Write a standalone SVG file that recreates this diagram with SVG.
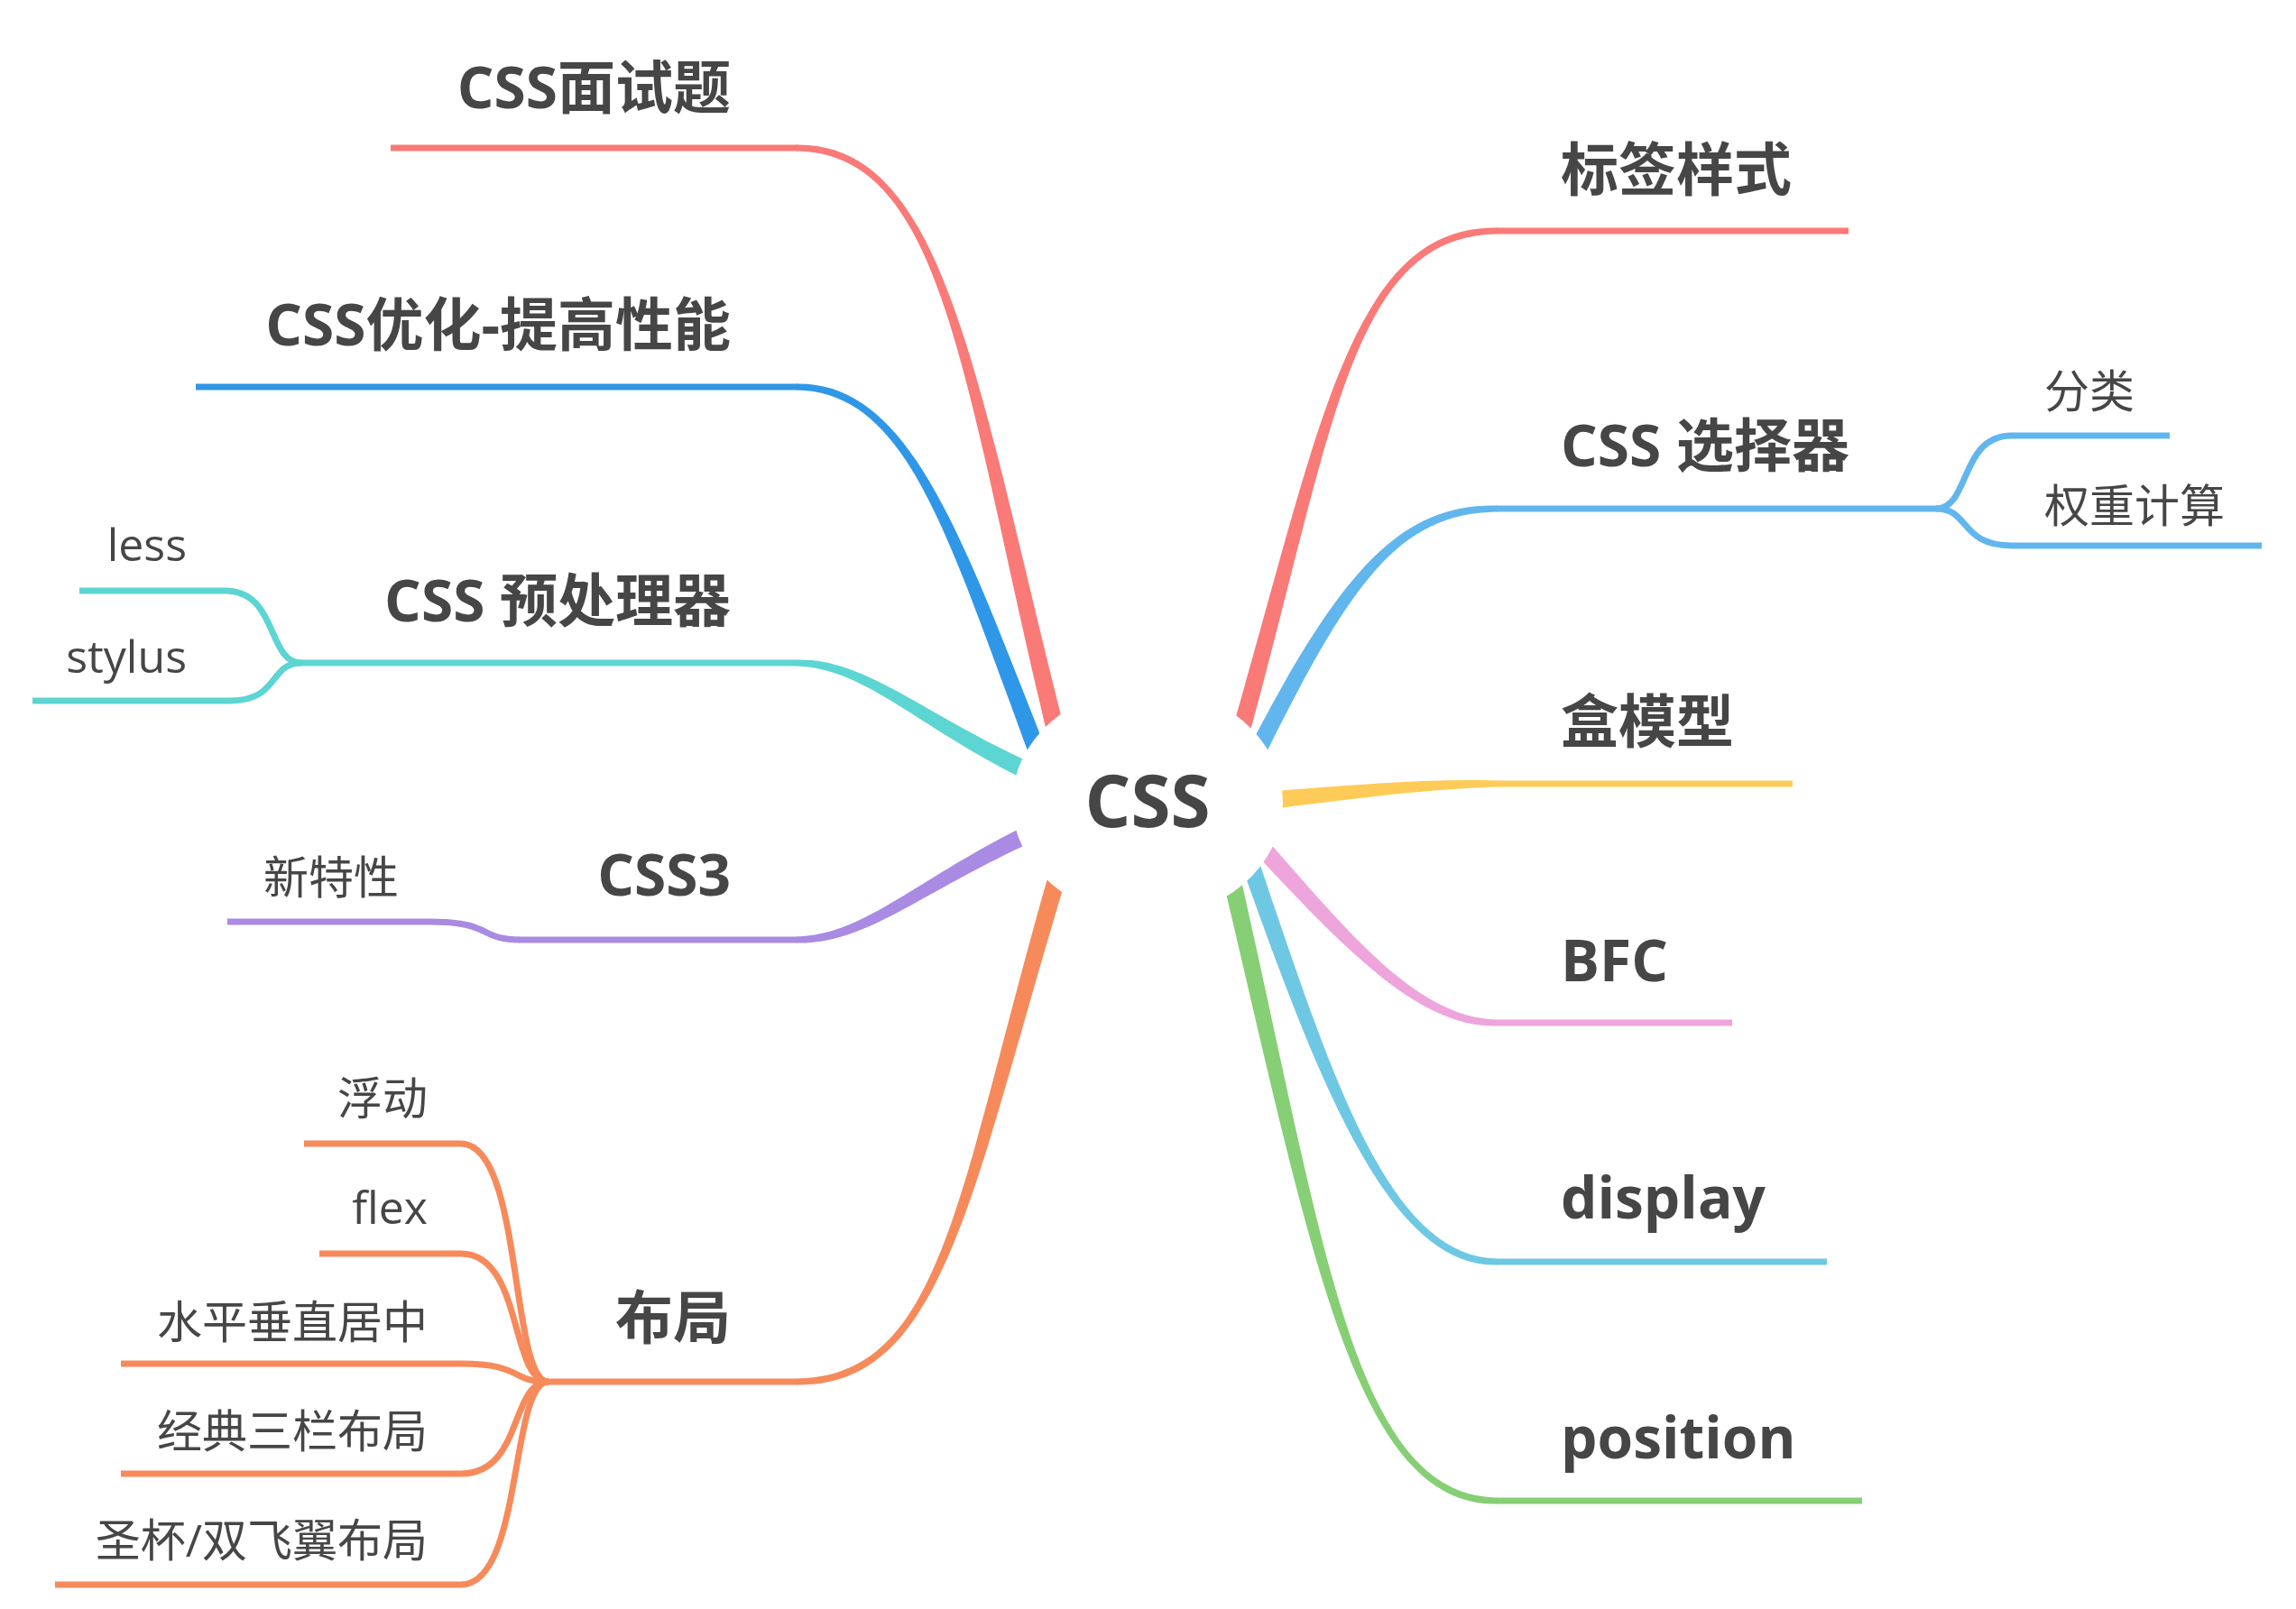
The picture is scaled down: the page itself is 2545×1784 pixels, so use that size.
<svg xmlns="http://www.w3.org/2000/svg" width="2545" height="1784" viewBox="0 0 2545 1784">
<style>
.t{font-family:"Open Sans","Noto Sans CJK SC",sans-serif;fill:#464646}
.m{font-size:64px;font-weight:bold}
.s{font-size:50px}
.l{stroke-width:7;fill:none;stroke-linecap:butt}
.red{stroke:#FA7A78}.redf{fill:#FA7A78}
.blu{stroke:#2F97E8}.bluf{fill:#2F97E8}
.cya{stroke:#5CD5D3}.cyaf{fill:#5CD5D3}
.pur{stroke:#A98BE3}.purf{fill:#A98BE3}
.ora{stroke:#F78A5B}.oraf{fill:#F78A5B}
.lbl{stroke:#62B6EE}.lblf{fill:#62B6EE}
.yel{stroke:#FECB59}.yelf{fill:#FECB59}
.pin{stroke:#EEA5DB}.pinf{fill:#EEA5DB}
.dis{stroke:#6EC8E4}.disf{fill:#6EC8E4}
.gre{stroke:#86CF74}.gref{fill:#86CF74}
</style>
<rect width="2545" height="1784" fill="#ffffff"/>
<g id="connectors">
  <!-- left main branches -->
  <path class="l red" d="M433,164 H884"/>
  <path class="redf" d="M883,167.5 C1050,169.7 1067.4,431.9 1165.3,832.4 L1184.7,827.6 C1082.6,428.1 1050,158.3 883,160.5 Z"/>
  <path class="l blu" d="M217,429 H884"/>
  <path class="bluf" d="M883,432.5 C1010,434.7 1052.7,602.8 1150.7,863.6 L1169.3,856.4 C1067.3,597.2 1010,423.3 883,425.5 Z"/>
  <path class="l cya" d="M333,735 H884"/>
  <path class="cyaf" d="M883,738.5 C960,740.7 1016.7,807.1 1145.8,869.1 L1154.2,850.9 C1023.3,792.9 960,729.3 883,731.5 Z"/>
  <path class="l pur" d="M575,1042 H884"/>
  <path class="purf" d="M883,1045.5 C960,1047.7 1023.3,987.1 1154.2,929.1 L1145.8,910.9 C1016.7,972.9 960,1036.3 883,1038.5 Z"/>
  <path class="l ora" d="M607,1532 H884"/>
  <path class="oraf" d="M883,1535.5 C1050,1537.7 1077.5,1312.3 1189.6,947.9 L1170.4,942.1 C1062.5,1307.7 1050,1526.3 883,1528.5 Z"/>
  <!-- right main branches -->
  <path class="l red" d="M1658,256 H2049"/>
  <path class="redf" d="M1659,252.5 C1494,250.3 1461.5,483.8 1360.4,827.2 L1379.6,832.8 C1476.5,488.2 1494,261.7 1659,259.5 Z"/>
  <path class="l lbl" d="M1658,564 H2148"/>
  <path class="lblf" d="M1659,560.5 C1550,558.3 1483,636.5 1376.1,845.5 L1393.9,854.5 C1497,643.5 1550,569.7 1659,567.5 Z"/>
  <path class="l yel" d="M1658,869 H1987"/>
  <path class="yelf" d="M1659,865.5 C1580,863.3 1499.2,870.2 1399,878 L1401,898 C1500.8,885.8 1580,874.7 1659,872.5 Z"/>
  <path class="l pin" d="M1658,1134 H1920"/>
  <path class="pinf" d="M1659,1130.5 C1570,1128.3 1495.8,1034.7 1397.4,923.3 L1382.6,936.7 C1484.2,1045.3 1570,1139.7 1659,1137.5 Z"/>
  <path class="l gre" d="M1658,1664 H2064"/>
  <path class="gref" d="M1659,1660.5 C1500,1658.3 1467.6,1378.2 1371.7,957.7 L1352.3,962.3 C1452.4,1381.8 1500,1669.7 1659,1667.5 Z"/>
  <path class="l dis" d="M1658,1399 H2025"/>
  <path class="disf" d="M1659,1395.5 C1540,1393.3 1477.4,1197.4 1394.4,951.7 L1375.6,958.3 C1462.6,1202.6 1540,1404.7 1659,1402.5 Z"/>
  <!-- sub branches -->
  <path class="l cya" d="M88,655 H250 C308,655 296,735 334,735"/>
  <path class="l cya" d="M36,777 H255 C310,777 298,735 334,735"/>
  <path class="l pur" d="M252,1022 H477 C546,1022 531,1042 576,1042"/>
  <path class="l ora" d="M337,1268 H511 C580,1268 565,1532 608,1532"/>
  <path class="l ora" d="M354,1390 H511 C580,1390 565,1532 608,1532"/>
  <path class="l ora" d="M134,1512 H511 C580,1512 565,1532 608,1532"/>
  <path class="l ora" d="M134,1634 H511 C580,1634 565,1532 608,1532"/>
  <path class="l ora" d="M61,1757 H511 C580,1757 565,1532 608,1532"/>
  <path class="l lbl" d="M2405,483 H2230 C2172,483 2184,564 2146,564"/>
  <path class="l lbl" d="M2507,605 H2230 C2172,605 2184,564 2146,564"/>
</g>
<g id="node-root">
  <ellipse cx="1272" cy="890" rx="150" ry="128" fill="#ffffff"/>
  <text class="t" x="1272" y="917" font-size="80" font-weight="bold" text-anchor="middle">CSS</text>
</g>
<g id="node-interview"><text class="t m" x="810" y="120" text-anchor="end">CSS面试题</text></g>
<g id="node-optimize"><text class="t m" x="810" y="383" text-anchor="end">CSS优化-提高性能</text></g>
<g id="node-preprocessor"><text class="t m" x="810" y="689" text-anchor="end">CSS 预处理器</text></g>
<g id="node-less"><text class="t s" x="207" y="622" text-anchor="end">less</text></g>
<g id="node-stylus"><text class="t s" x="207" y="746" text-anchor="end">stylus</text></g>
<g id="node-css3"><text class="t m" x="810" y="993" text-anchor="end">CSS3</text></g>
<g id="node-newfeatures"><text class="t s" x="442" y="991" text-anchor="end">新特性</text></g>
<g id="node-layout"><text class="t m" x="810" y="1484" text-anchor="end">布局</text></g>
<g id="node-float"><text class="t s" x="474" y="1236" text-anchor="end">浮动</text></g>
<g id="node-flex"><text class="t s" x="474" y="1357" text-anchor="end">flex</text></g>
<g id="node-center"><text class="t s" x="474" y="1484" text-anchor="end">水平垂直居中</text></g>
<g id="node-threecol"><text class="t s" x="474" y="1605" text-anchor="end">经典三栏布局</text></g>
<g id="node-holygrail"><text class="t s" x="474" y="1726" text-anchor="end">圣杯/双飞翼布局</text></g>
<g id="node-tagstyle"><text class="t m" x="1730" y="211">标签样式</text></g>
<g id="node-selector"><text class="t m" x="1730" y="517">CSS 选择器</text></g>
<g id="node-category"><text class="t s" x="2266" y="452">分类</text></g>
<g id="node-weight"><text class="t s" x="2266" y="579">权重计算</text></g>
<g id="node-boxmodel"><text class="t m" x="1730" y="823">盒模型</text></g>
<g id="node-bfc"><text class="t m" x="1730" y="1088">BFC</text></g>
<g id="node-display"><text class="t m" x="1730" y="1351">display</text></g>
<g id="node-position"><text class="t m" x="1730" y="1617">position</text></g>
</svg>
